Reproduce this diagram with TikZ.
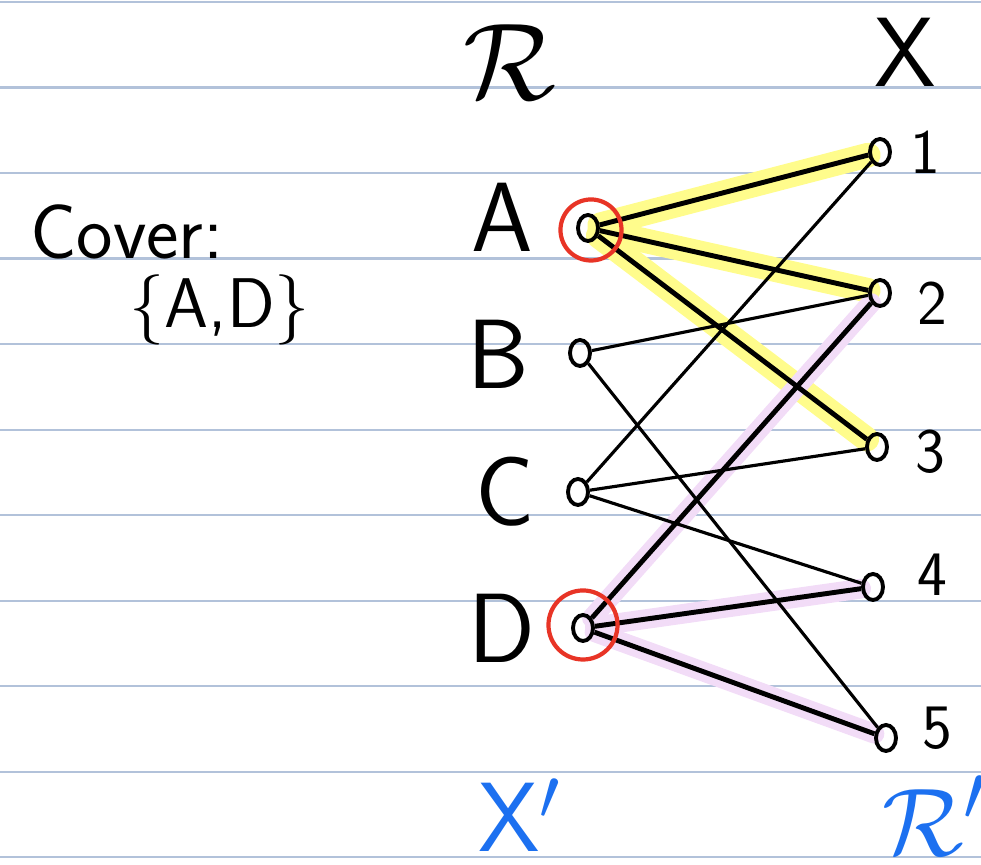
\documentclass[tikz,border=0pt]{standalone}
\usepackage{amsmath,amssymb}
\usepackage{tikz}
\usetikzlibrary{shapes.geometric,backgrounds}
\definecolor{rulec}{RGB}{178,194,218}
\definecolor{hlyel}{RGB}{255,252,140}
\definecolor{hlpink}{RGB}{242,220,247}
\definecolor{pickred}{RGB}{232,52,38}
\definecolor{penblue}{RGB}{28,112,240}
\tikzset{
  rule/.style    = {line width=0.6pt, rulec},
  vtx/.style     = {ellipse, draw, line width=1.1pt, inner sep=0pt,
                    minimum width=2mm, minimum height=2.6mm},
  edge/.style    = {line width=0.9pt},
  cedge/.style   = {line width=1.4pt},
  hly/.style     = {line width=7pt, hlyel, line cap=round},
  hlp/.style     = {line width=5.6pt, hlpink, line cap=round},
  pick/.style    = {circle, draw=pickred, line width=1.2pt, inner sep=0pt},
  lbl/.style     = {font=\sffamily\fontsize{28}{30}\selectfont, inner sep=0pt},
  num/.style     = {font=\sffamily\fontsize{18}{20}\selectfont, inner sep=0pt},
  note/.style    = {font=\sffamily\fontsize{22}{24}\selectfont, inner sep=0pt},
  blbl/.style    = {lbl, text=penblue},
}

\begin{document}
\begin{tikzpicture}[x=0.01cm, y=-0.01cm]
  \useasboundingbox (0,0) rectangle (981,865);
  % left side R
  \node[vtx] (A) at (588,228) {};
  \node[vtx] (B) at (580,353) {};
  \node[vtx] (C) at (578,492) {};
  \node[vtx] (D) at (583,628) {};
  % right side X
  \node[vtx] (1) at (880,152) {};
  \node[vtx] (2) at (880,293) {};
  \node[vtx] (3) at (877,447) {};
  \node[vtx] (4) at (873,587) {};
  \node[vtx] (5) at (886,738) {};
  \begin{scope}[on background layer]
    \foreach \y in {2,87.5,173,258.5,344,430,515,601,686,772,857}
      \draw[rule] (0,\y) -- (981,\y);
    \foreach \t in {1,2,3} \draw[hly] (A) -- (\t);
    \foreach \t in {2,4,5} \draw[hlp] (D) -- (\t);
  \end{scope}
  % edges
  \foreach \t in {1,2,3} \draw[cedge] (A) -- (\t);
  \foreach \t in {2,4,5} \draw[cedge] (D) -- (\t);
  \draw[edge] (B) -- (2);
  \draw[edge] (B) -- (5);
  \draw[edge] (C) -- (1);
  \draw[edge] (C) -- (3);
  \draw[edge] (C) -- (4);
  % chosen cover
  \node[pick, minimum size=6.1mm] (pA) at (591,230) {};
  \node[pick, minimum size=6.9mm] (pD) at (583,625) {};
  % labels
  \node[lbl, scale=1.25] (lR) at (510,62) {$\mathcal{R}$};
  \node[lbl] (lX) at (905,52) {X};
  \node[lbl] (lA) at (502,217) {A};
  \node[lbl] (lB) at (498,354) {B};
  \node[lbl] (lC) at (505,492) {C};
  \node[lbl] (lD) at (502,628) {D};
  \node[num] (l1) at (925,152) {1};
  \node[num] (l2) at (932,303) {2};
  \node[num] (l3) at (930,452) {3};
  \node[num] (l4) at (932,575) {4};
  \node[num] (l5) at (937,728) {5};
  \node[blbl] (lXp) at (520,815) {X$'$};
  \node[blbl, scale=1.1] (lRp) at (935,816) {$\mathcal{R}'$};
  \node[note] (cov) at (127,232) {Cover:};
  \node[note, font=\sffamily\fontsize{20}{22}\selectfont] (cset) at (220,310) {\{A,D\}};
\end{tikzpicture}
\end{document}
